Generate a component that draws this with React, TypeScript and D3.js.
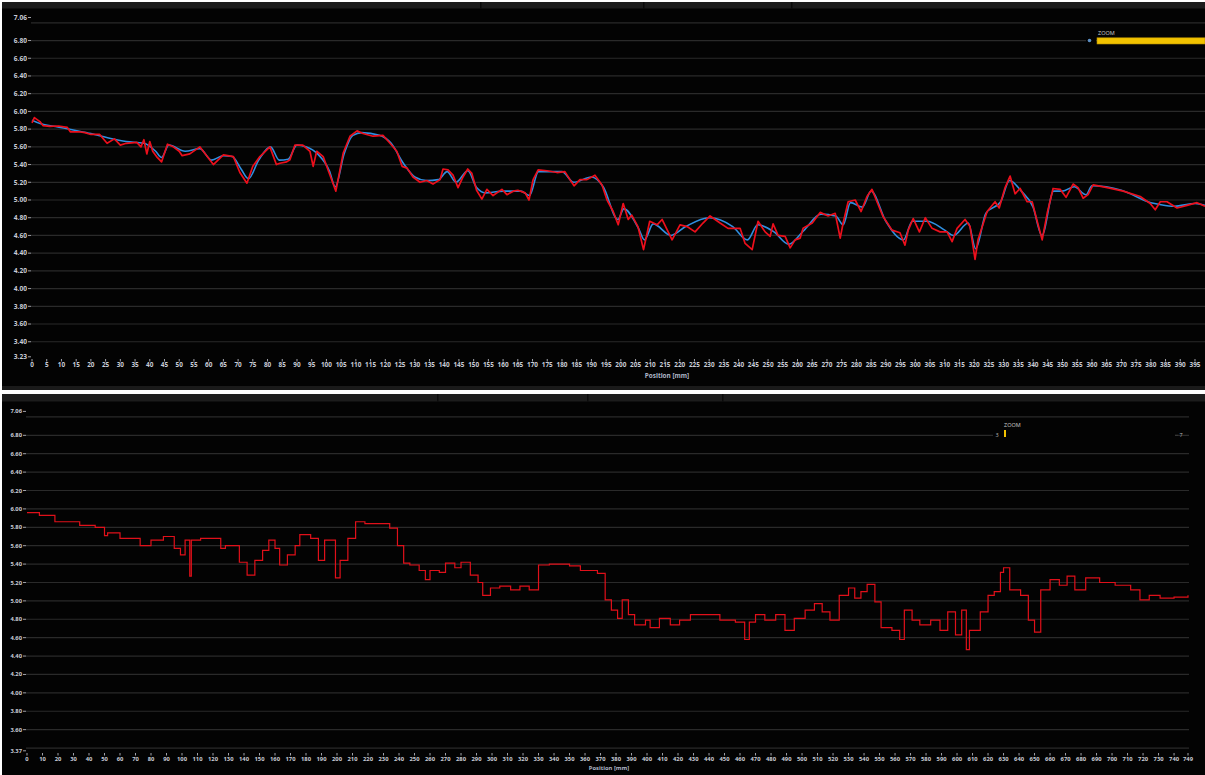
import React from "react";
import * as d3 from "d3";

// ---- Upper profile: measured (red) and filtered (blue), position in mm ----
const measuredPos = [
  0, 0.8, 2.7, 3.7, 6, 9, 12, 13, 16, 18, 20, 23, 25.5, 28, 30, 32, 35.6, 37, 38, 39, 40, 41, 42.3, 44, 46, 48, 50, 51,
  53.6, 57, 61.6, 65, 68.4, 70.6, 73, 75, 77.4, 80.8, 83, 84.2, 86.5, 87.6, 89.3, 92, 94.4, 95.5, 96.7, 98.9, 101,
  103.2, 104.6, 105.7, 108, 110.4, 112.4, 115.8, 119.2, 121.6, 123.9, 125.7, 127.4, 129.4, 131.8, 134.1, 136.2, 138.6,
  139.6, 141.3, 143, 144.7, 146.4, 148, 149.4, 151, 152.8, 154.5, 156.6, 159.6, 161.3, 163.5, 165, 167.5, 168.8, 170.2,
  171.9, 174.9, 178.3, 181, 182.7, 184.1, 186.1, 188.5, 191.2, 193.6, 195.3, 197.4, 199.1, 200.8, 202.5, 203.7, 205.8,
  207.7, 209.8, 212.3, 214, 217.4, 220.1, 222.5, 225.2, 227.9, 230.3, 233.7, 236.4, 240.5, 242.2, 244.6, 246.6, 249,
  250.7, 251.7, 253.4, 255.8, 257.5, 259.2, 260.9, 261.9, 265, 267.7, 270.4, 272.8, 274.5, 275.5, 277.2, 279.6, 281.6,
  283.6, 285.3, 287, 289.1, 292.1, 294.8, 296.5, 297.6, 299.3, 301.4, 303.4, 305.7, 308.4, 310.8, 312.5, 314.2, 316.9,
  318.6, 320.3, 321.3, 324.4, 327.1, 328.5, 330.5, 332.2, 333.9, 335.6, 338, 339.7, 341.4, 343.1, 344.8, 346.8, 349.2,
  351.2, 353.6, 355.3, 357, 358.7, 360.4, 365.2, 370.6, 376.4, 379.8, 381.5, 383.2, 385.5, 388.9, 392.3, 395.7, 398.4,
];
const measuredVal = [
  5.87, 5.93, 5.885, 5.84, 5.83, 5.835, 5.82, 5.77, 5.77, 5.76, 5.74, 5.74, 5.64, 5.69, 5.62, 5.64, 5.65, 5.6, 5.68,
  5.52, 5.66, 5.55, 5.49, 5.43, 5.63, 5.6, 5.55, 5.5, 5.52, 5.6, 5.4, 5.51, 5.49, 5.31, 5.19, 5.38, 5.49, 5.6, 5.4,
  5.415, 5.43, 5.455, 5.62, 5.62, 5.55, 5.38, 5.55, 5.49, 5.3, 5.1, 5.34, 5.53, 5.72, 5.78, 5.75, 5.72, 5.73, 5.64,
  5.55, 5.38, 5.36, 5.26, 5.2, 5.22, 5.18, 5.23, 5.35, 5.34, 5.28, 5.14, 5.26, 5.35, 5.3, 5.11, 5.01, 5.12, 5.05, 5.12,
  5.06, 5.1, 5.11, 5.08, 5.0, 5.23, 5.34, 5.33, 5.31, 5.32, 5.23, 5.16, 5.23, 5.23, 5.28, 5.17, 5.0, 4.87, 4.72, 4.96,
  4.78, 4.83, 4.7, 4.44, 4.76, 4.72, 4.78, 4.55, 4.72, 4.7, 4.64, 4.74, 4.82, 4.74, 4.68, 4.68, 4.51, 4.44, 4.76, 4.64,
  4.59, 4.73, 4.6, 4.59, 4.46, 4.55, 4.57, 4.68, 4.74, 4.86, 4.82, 4.85, 4.57, 4.74, 4.98, 5.0, 4.87, 5.04, 5.12, 4.98,
  4.81, 4.66, 4.63, 4.49, 4.66, 4.79, 4.64, 4.8, 4.68, 4.64, 4.64, 4.53, 4.68, 4.78, 4.7, 4.33, 4.55, 4.87, 4.98, 4.91,
  5.14, 5.27, 5.07, 5.13, 4.98, 4.98, 4.76, 4.55, 4.85, 5.13, 5.12, 5.03, 5.18, 5.14, 5.02, 5.06, 5.17, 5.14, 5.1,
  5.04, 4.96, 4.89, 4.98, 4.98, 4.91, 4.94, 4.97, 4.93,
];
const filteredPos = [
  0, 3, 8, 14, 20, 26, 32, 38, 42, 44, 46.5, 52, 57, 61, 65, 68, 71, 73.5, 77, 81, 84, 87, 90, 93, 97, 101, 103, 106,
  109, 112, 118, 122, 126, 130, 134, 138, 141, 144, 148, 151, 154, 160, 166, 169, 172, 180, 184, 190, 194, 199, 201,
  206, 208, 211, 217, 222, 230, 238, 243, 246.5, 252, 257, 262, 268, 273, 275.5, 278, 282, 285, 290, 296, 299, 304,
  310, 313, 318, 320.5, 324, 329, 332, 336, 340, 343, 347, 350, 354, 358, 360, 370, 380, 383, 388, 395, 398.4,
];
const filteredVal = [
  5.9, 5.86, 5.83, 5.79, 5.75, 5.7, 5.66, 5.64, 5.55, 5.48, 5.62, 5.55, 5.58, 5.45, 5.5, 5.49, 5.35, 5.24, 5.45, 5.6,
  5.45, 5.46, 5.62, 5.6, 5.52, 5.33, 5.15, 5.52, 5.73, 5.76, 5.73, 5.64, 5.42, 5.26, 5.22, 5.23, 5.32, 5.2, 5.33, 5.14,
  5.08, 5.1, 5.1, 5.05, 5.32, 5.32, 5.2, 5.26, 5.15, 4.78, 4.9, 4.68, 4.55, 4.73, 4.6, 4.7, 4.8, 4.7, 4.55, 4.72, 4.64,
  4.5, 4.65, 4.84, 4.82, 4.72, 4.97, 4.92, 5.1, 4.76, 4.55, 4.76, 4.76, 4.66, 4.6, 4.74, 4.45, 4.85, 4.98, 5.22, 5.1,
  4.92, 4.6, 5.1, 5.1, 5.15, 5.06, 5.16, 5.11, 4.97, 4.95, 4.93, 4.96, 4.94,
];

// ---- Lower profile: stepped trace over the full length ----
const stepPos = [
  0, 8, 18, 34, 44, 50, 52, 60, 73, 80, 88, 95, 99, 102, 105, 106, 112, 125, 128, 137, 142, 147, 152, 156, 160, 163,
  168, 173, 176, 183, 188, 192, 199, 202, 207, 212, 218, 234, 239, 243, 247, 253, 257, 260, 266, 270, 276, 280, 286,
  291, 294, 299, 305, 312, 318, 324, 330, 337, 350, 357, 368, 373, 377, 381, 384, 388, 392, 399, 402, 408, 415, 421,
  428, 447, 457, 463, 466, 470, 476, 483, 489, 495, 502, 508, 513, 518, 524, 530, 534, 538, 542, 547, 551, 558, 563,
  566, 571, 576, 583, 589, 594, 599, 603, 606, 608, 610, 615, 620, 624, 628, 630, 634, 641, 646, 650, 654, 660, 666,
  671, 676, 683, 692, 702, 712, 718, 724, 731, 740, 749,
];
const stepVal = [
  5.96, 5.93, 5.86, 5.82, 5.8, 5.71, 5.74, 5.68, 5.6, 5.66, 5.7, 5.57, 5.5, 5.66, 5.27, 5.66, 5.68, 5.57, 5.6, 5.42,
  5.28, 5.44, 5.55, 5.66, 5.57, 5.39, 5.5, 5.6, 5.72, 5.68, 5.44, 5.66, 5.25, 5.44, 5.68, 5.86, 5.84, 5.79, 5.6, 5.41,
  5.39, 5.33, 5.23, 5.33, 5.31, 5.41, 5.36, 5.42, 5.28, 5.2, 5.06, 5.14, 5.16, 5.12, 5.16, 5.12, 5.39, 5.4, 5.38, 5.33,
  5.3, 5.01, 4.9, 4.81, 5.01, 4.85, 4.74, 4.79, 4.71, 4.81, 4.74, 4.79, 4.85, 4.79, 4.77, 4.58, 4.77, 4.85, 4.79, 4.85,
  4.68, 4.81, 4.9, 4.97, 4.88, 4.79, 5.06, 5.14, 5.03, 5.1, 5.18, 4.99, 4.71, 4.68, 4.58, 4.9, 4.79, 4.74, 4.79, 4.68,
  4.88, 4.63, 4.9, 4.47, 4.68, 4.68, 4.88, 5.06, 5.1, 5.31, 5.36, 5.12, 5.06, 4.79, 4.66, 5.12, 5.23, 5.17, 5.27, 5.12,
  5.25, 5.2, 5.17, 5.12, 5.01, 5.06, 5.03, 5.04, 5.06,
];

// ---- Axis tick definitions ----
const gridLevels = d3.range(17, 36).map((k) => k / 5); // 3.40 … 7.00
const upperLabelLevels = d3.range(17, 35).map((k) => k / 5); // 3.40 … 6.80
const lowerLabelLevels = d3.range(18, 35).map((k) => k / 5); // 3.60 … 6.80
const upperXTicks = d3.range(0, 400, 5);
const lowerXTicks = d3.range(0, 741, 10).concat([749]);

const AXIS_TEXT = "#c9ccd6";
const GRID = "#2a2a2a";
const FONT = "'Open Sans', 'DejaVu Sans', sans-serif";

type Pt = [number, number];
const zip = (a: number[], b: number[]): Pt[] => a.map((v, i) => [v, b[i]]);

function HeaderBand({ y, h, seps }: { y: number; h: number; seps: number[] }) {
  return (
    <g>
      <rect x={2} y={y} width={1203} height={h} fill="#1c1c1c" />
      {seps.map((s) => (
        <rect key={s} x={s} y={y} width={1.5} height={h} fill="#0b0b0b" />
      ))}
    </g>
  );
}

function YAxis({
  y,
  x0,
  x1,
  lo,
  hi,
  levels,
  fs,
}: {
  y: d3.ScaleLinear<number, number>;
  x0: number;
  x1: number;
  lo: number;
  hi: number;
  levels: number[];
  fs: number;
}) {
  const all = [hi, ...levels, lo];
  return (
    <g>
      {gridLevels.map((v) => (
        <line key={v} x1={x0} x2={x1} y1={y(v)} y2={y(v)} stroke={GRID} strokeWidth={1.2} />
      ))}
      {all.map((v) => (
        <g key={"l" + v}>
          <line x1={x0 - 3} x2={x0} y1={y(v)} y2={y(v)} stroke={AXIS_TEXT} strokeWidth={0.8} />
          <text
            x={x0 - 4}
            y={y(v)}
            dy="0.35em"
            textAnchor="end"
            fontSize={fs}
            fontWeight={700}
            fill={AXIS_TEXT}
            fontFamily={FONT}
          >
            {v.toFixed(2)}
          </text>
        </g>
      ))}
    </g>
  );
}

function XAxis({
  x,
  ticks,
  tickY,
  fs,
  titleX,
  titleY,
}: {
  x: d3.ScaleLinear<number, number>;
  ticks: number[];
  tickY: number;
  fs: number;
  titleX: number;
  titleY: number;
}) {
  return (
    <g>
      {ticks.map((t) => (
        <g key={t}>
          <line x1={x(t)} x2={x(t)} y1={tickY} y2={tickY + 2.5} stroke={AXIS_TEXT} strokeWidth={0.8} />
          <text
            x={x(t)}
            y={tickY + 6}
            dy="0.35em"
            textAnchor="middle"
            fontSize={fs}
            fontWeight={700}
            fill={AXIS_TEXT}
            fontFamily={FONT}
          >
            {t}
          </text>
        </g>
      ))}
      <text
        x={titleX}
        y={titleY}
        dy="0.35em"
        textAnchor="middle"
        fontSize={fs}
        fontWeight={700}
        fill="#aeb6c8"
        fontFamily={FONT}
      >
        Position [mm]
      </text>
    </g>
  );
}

export default function App() {
  // upper panel scales
  const xU = d3.scaleLinear().domain([0, 398.4]).range([32, 1205]);
  const yU = d3.scaleLinear().domain([3.23, 7.06]).range([356.8, 17.5]);
  // lower panel scales
  const xL = d3.scaleLinear().domain([0, 749]).range([27, 1188]);
  const yL = d3.scaleLinear().domain([3.37, 7.06]).range([750.8, 411.4]);

  const lineU = d3
    .line<Pt>()
    .x((d) => xU(d[0]))
    .y((d) => yU(d[1]));
  const smoothU = d3
    .line<Pt>()
    .x((d) => xU(d[0]))
    .y((d) => yU(d[1]))
    .curve(d3.curveMonotoneX);
  const stepL = d3
    .line<Pt>()
    .x((d) => xL(d[0]))
    .y((d) => yL(d[1]))
    .curve(d3.curveStepAfter);

  const measured = zip(measuredPos, measuredVal);
  const filtered = zip(filteredPos, filteredVal);
  const stepped = zip(stepPos, stepVal);

  return (
    <svg
      width={1205}
      height={775}
      style={{ position: "absolute", left: 0, top: 0, background: "#ffffff" }}
    >
      {/* upper panel */}
      <rect x={2} y={2} width={1203} height={388} fill="#030303" />
      <HeaderBand y={2} h={6.5} seps={[480, 643, 791]} />
      <rect x={2} y={386} width={1203} height={4} fill="#1a1a1a" />
      <YAxis y={yU} x0={31} x1={1205} lo={3.23} hi={7.06} levels={upperLabelLevels} fs={6.6} />
      <XAxis x={xU} ticks={upperXTicks} tickY={359} fs={6.4} titleX={667} titleY={375.5} />
      <path d={smoothU(filtered) || ""} fill="none" stroke="#2f8fe0" strokeWidth={1.6} />
      <path d={lineU(measured) || ""} fill="none" stroke="#ec0f1c" strokeWidth={1.7} strokeLinejoin="round" />
      {/* zoom control */}
      <rect x={1086} y={36} width={10} height={10} fill="#030303" />
      <circle cx={1089.5} cy={yU(6.8)} r={1.8} fill="#5d8fc4" />
      <text x={1098} y={34.5} fontSize={5.5} fill="#cfcfcf" fontFamily={FONT}>
        ZOOM
      </text>
      <rect x={1097} y={37.8} width={108} height={6.2} fill="#f2c200" stroke="#b08a00" strokeWidth={0.6} />

      {/* lower panel */}
      <rect x={2} y={394} width={1203} height={381} fill="#030303" />
      <HeaderBand y={394} h={7.5} seps={[437, 587, 722]} />
      <YAxis y={yL} x0={26} x1={1189} lo={3.37} hi={7.06} levels={lowerLabelLevels} fs={5.8} />
      <rect x={993} y={429} width={182} height={9} fill="#030303" />
      <XAxis x={xL} ticks={lowerXTicks} tickY={753} fs={5.8} titleX={609} titleY={768} />
      <path d={stepL(stepped) || ""} fill="none" stroke="#e0101a" strokeWidth={1.2} />
      {/* zoom control */}
      <text x={997} y={yL(6.8)} dy="0.35em" textAnchor="middle" fontSize={5.5} fill="#bdbdbd" fontFamily={FONT}>
        3
      </text>
      <rect x={1004} y={430} width={2} height={7} fill="#f2c200" />
      <text x={1004} y={426.5} fontSize={5.5} fill="#cfcfcf" fontFamily={FONT}>
        ZOOM
      </text>
      <line x1={1175} x2={1178} y1={yL(6.8)} y2={yL(6.8)} stroke="#3a3a3a" strokeWidth={1} />
      <text x={1181} y={yL(6.8)} dy="0.35em" textAnchor="middle" fontSize={5.5} fill="#bdbdbd" fontFamily={FONT}>
        7
      </text>
    </svg>
  );
}
